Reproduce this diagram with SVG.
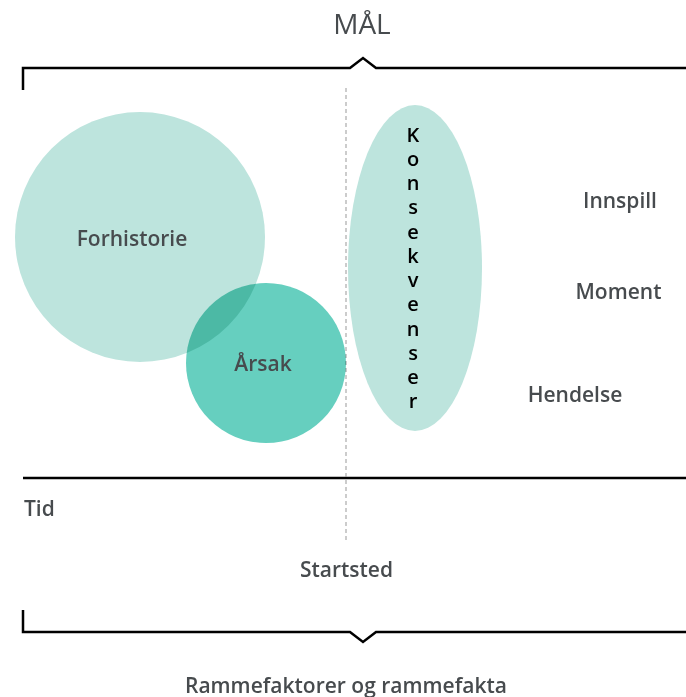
<svg xmlns="http://www.w3.org/2000/svg" width="686" height="697" viewBox="0 0 686 697">
<style>
.lbl{font-family:"Open Sans","Liberation Sans",sans-serif;font-weight:600;fill:#474b4e;font-size:21px;text-anchor:middle}
.k{font-family:"Open Sans","Liberation Sans",sans-serif;font-weight:600;fill:#000;font-size:20px;text-anchor:middle}
.line{fill:none;stroke:#000;stroke-width:2.5}
</style>
<rect width="686" height="697" fill="#fff"/>
<g id="connectors">
<path class="line" d="M23 90 V68 H350 L363 58 L376 68 H686"/>
<path class="line" d="M23 610 V632 H350 L363 642 L376 632 H686"/>
<line x1="23" y1="478" x2="686" y2="478" stroke="#000" stroke-width="2.5"/>
<line x1="346" y1="88" x2="346" y2="542" stroke="#999" stroke-width="1" stroke-dasharray="4 3"/>
</g>
<g id="forhistorie">
<circle cx="140" cy="237" r="125" fill="#bde4dd"/>
<text class="lbl" x="132" y="246">Forhistorie</text>
</g>
<g id="arsak">
<circle cx="266" cy="363" r="80" fill="#66cfbf" style="mix-blend-mode:multiply"/>
<text class="lbl" x="263" y="371">Årsak</text>
</g>
<g id="konsekvenser">
<ellipse cx="415" cy="268" rx="67" ry="163" fill="#bde4dd"/>
<text class="k" x="413" y="141.5"><tspan x="413">K</tspan><tspan x="413" dy="24.25">o</tspan><tspan x="413" dy="24.25">n</tspan><tspan x="413" dy="24.25">s</tspan><tspan x="413" dy="24.25">e</tspan><tspan x="413" dy="24.25">k</tspan><tspan x="413" dy="24.25">v</tspan><tspan x="413" dy="24.25">e</tspan><tspan x="413" dy="24.25">n</tspan><tspan x="413" dy="24.25">s</tspan><tspan x="413" dy="24.25">e</tspan><tspan x="413" dy="24.25">r</tspan></text>
</g>
<g id="labels">
<text class="lbl" x="362" y="34" style="font-size:28px;font-weight:500">MÅL</text>
<text class="lbl" x="620" y="208">Innspill</text>
<text class="lbl" x="618.5" y="299">Moment</text>
<text class="lbl" x="575" y="402">Hendelse</text>
<text class="lbl" x="24" y="516" style="text-anchor:start">Tid</text>
<text class="lbl" x="346.5" y="577">Startsted</text>
<text class="lbl" x="346" y="693">Rammefaktorer og rammefakta</text>
</g>
</svg>
